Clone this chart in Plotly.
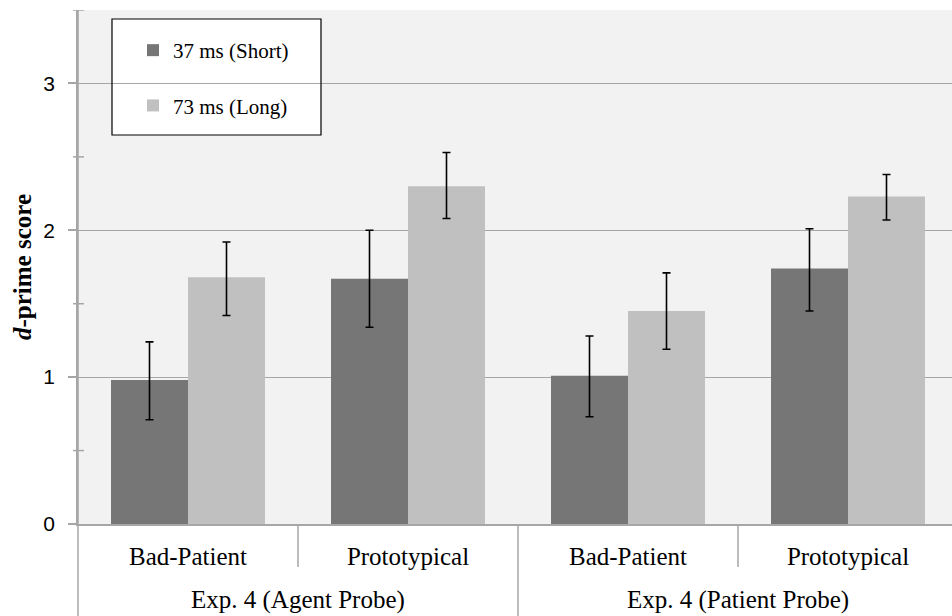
import plotly.graph_objects as go

# ---- data ----
categories = ["Bad-Patient", "Prototypical", "Bad-Patient", "Prototypical"]
groups = ["Exp. 4 (Agent Probe)", "Exp. 4 (Patient Probe)"]
series_names = ["37 ms (Short)", "73 ms (Long)"]
short_vals = [0.98, 1.67, 1.01, 1.74]
short_upper = [1.24, 2.00, 1.28, 2.01]
short_lower = [0.71, 1.34, 0.73, 1.45]
long_vals = [1.68, 2.30, 1.45, 2.23]
long_upper = [1.92, 2.53, 1.71, 2.38]
long_lower = [1.42, 2.08, 1.19, 2.07]
y_ticks = [0, 1, 2, 3]
y_minor = [0.5, 1.5, 2.5, 3.5]

DARK = "#767676"
LIGHT = "#c0c0c0"
AXIS = "#a6a6a6"
SERIF = "Liberation Serif"
SANS = "Liberation Sans"

xpos = list(range(len(categories)))

def err(vals, up, lo):
    return dict(type="data", symmetric=False,
                array=[u - v for u, v in zip(up, vals)],
                arrayminus=[v - l for v, l in zip(vals, lo)],
                color="#000000", thickness=1.6, width=4)

fig = go.Figure()
fig.add_trace(go.Bar(x=xpos, y=short_vals, name=series_names[0], marker_color=DARK,
                     marker_line_width=0, error_y=err(short_vals, short_upper, short_lower),
                     legendgroup="a"))
fig.add_trace(go.Bar(x=xpos, y=long_vals, name=series_names[1], marker_color=LIGHT,
                     marker_line_width=0, error_y=err(long_vals, long_upper, long_lower),
                     legendgroup="b"))

W, H = 952, 616
ml, mr, mt, mb = 78, 0, 10, 92
pw, ph = W - ml - mr, H - mt - mb
cat_px = 220.0
x_left = -0.5
x_right = x_left + pw / cat_px

shapes = []
# y axis line extension below the plot
shapes.append(dict(type="line", xref="paper", yref="paper", x0=0, x1=0, y0=1, y1=-mb / ph,
                   line=dict(color=AXIS, width=1.5)))
# minor crossing ticks
for v in y_minor:
    shapes.append(dict(type="line", xref="paper", yref="y", xsizemode="pixel", xanchor=0,
                       x0=-5, x1=6, y0=v, y1=v, line=dict(color=AXIS, width=1.5)))
# dividers below the axis
n_per_group = len(categories) // len(groups)
for i in range(1, len(categories)):
    long_div = (i % n_per_group == 0)
    depth = mb if long_div else 43
    shapes.append(dict(type="line", xref="x", yref="paper", x0=i - 0.5, x1=i - 0.5,
                       y0=0, y1=-depth / ph, line=dict(color=AXIS, width=1.5)))
# legend box
lx0, lx1, ly0, ly1 = 112, 321, 19, 135
shapes.append(dict(type="rect", xref="paper", yref="paper", layer="above",
                   x0=(lx0 - ml) / pw, x1=(lx1 - ml) / pw,
                   y0=1 - (ly1 - mt) / ph, y1=1 - (ly0 - mt) / ph,
                   line=dict(color="#000000", width=1.2), fillcolor="rgba(0,0,0,0)"))
shapes.insert(0, dict(type="rect", xref="paper", yref="paper", layer="below",
                      x0=(lx0 - ml) / pw, x1=(lx1 - ml) / pw,
                      y0=1 - (ly1 - mt) / ph, y1=1 - (ly0 - mt) / ph,
                      line=dict(width=0), fillcolor="#ffffff"))

annotations = []
for gi, g in enumerate(groups):
    center = gi * n_per_group + (n_per_group - 1) / 2
    annotations.append(dict(text=g, x=center, xref="x", y=-(600 - (mt + ph)) / ph, yref="paper",
                            yanchor="middle", xanchor="center", showarrow=False,
                            font=dict(family=SERIF, size=25, color="#000000")))

fig.update_layout(
    width=W, height=H,
    margin=dict(l=ml, r=mr, t=mt, b=mb, pad=0),
    paper_bgcolor="#ffffff", plot_bgcolor="#f2f2f2",
    barmode="group", bargap=0.3, bargroupgap=0,
    showlegend=True,
    legend=dict(x=(133 - ml) / pw, y=1 - (30 - mt) / ph, xanchor="left", yanchor="top",
                bgcolor="rgba(0,0,0,0)", borderwidth=0, tracegroupgap=25,
                traceorder="grouped",
                font=dict(family=SERIF, size=21, color="#000000")),
    xaxis=dict(range=[x_left, x_right], tickvals=xpos, ticktext=categories, ticks="",
               showgrid=False, zeroline=False, showline=True, linecolor=AXIS, linewidth=1.5,
               tickfont=dict(family=SERIF, size=25, color="#000000"), ticklabelstandoff=9),
    yaxis=dict(range=[0, 3.5], tickvals=y_ticks, ticks="outside", ticklen=8, tickcolor=AXIS,
               tickwidth=1.5, showgrid=True, gridcolor=AXIS, gridwidth=1.3, zeroline=False,
               showline=True, linecolor=AXIS, linewidth=1.5,
               tickfont=dict(family=SANS, size=21, color="#000000"), ticklabelstandoff=9,
               title=dict(text="<b><i>d</i>-prime score</b>", standoff=5,
                          font=dict(family=SERIF, size=25, color="#000000"))),
    shapes=shapes, annotations=annotations,
)

fig.write_html("out.html", config={"displayModeBar": False},
               post_script="document.body.style.margin='0';document.body.style.overflow='hidden';")
